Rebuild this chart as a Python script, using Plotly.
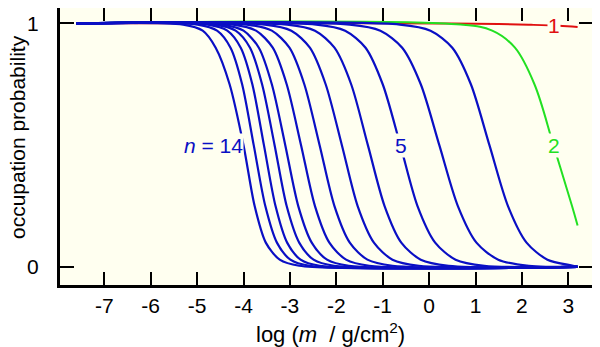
import plotly.graph_objects as go

# occupation probability levels at which each curve's position was read
levels = [0.995, 0.97, 0.9, 0.75, 0.5, 0.25, 0.1, 0.03, 0.005]

# log m (g/cm^2) where curve n crosses each level
curves = {
    14: [-5.30, -4.88, -4.60, -4.30, -4.00, -3.76, -3.52, -3.22, -2.80],
    13: [-4.99, -4.57, -4.28, -4.03, -3.78, -3.53, -3.28, -2.99, -2.58],
    12: [-4.77, -4.35, -4.06, -3.81, -3.56, -3.31, -3.06, -2.77, -2.36],
    11: [-4.61, -4.17, -3.86, -3.60, -3.33, -3.07, -2.80, -2.49, -2.05],
    10: [-4.47, -4.00, -3.67, -3.39, -3.10, -2.82, -2.53, -2.20, -1.73],
    9: [-4.23, -3.73, -3.37, -3.07, -2.76, -2.46, -2.15, -1.79, -1.29],
    8: [-3.93, -3.39, -3.01, -2.69, -2.36, -2.04, -1.71, -1.33, -0.79],
    7: [-3.54, -2.97, -2.57, -2.23, -1.88, -1.54, -1.19, -0.79, -0.22],
    6: [-3.06, -2.46, -2.04, -1.68, -1.32, -0.96, -0.60, -0.18, 0.42],
    5: [-2.43, -1.81, -1.37, -1.00, -0.62, -0.25, 0.13, 0.57, 1.19],
    4: [-1.71, -1.05, -0.58, -0.18, 0.22, 0.62, 1.02, 1.49, 2.15],
    3: [-0.63, 0.03, 0.50, 0.90, 1.30, 1.70, 2.10, 2.55, 3.10],
}
x_start, x_end = -7.6, 3.2

n2_x = [-7.6, 0.68, 1.36, 1.85, 2.27, 2.68, 3.08, 3.2]
n2_y = [1.0, 0.995, 0.97, 0.9, 0.75, 0.5, 0.25, 0.17]

n1_x = [-7.6, -1.0, 0.5, 1.5, 2.2, 2.8, 3.2]
n1_y = [1.0, 1.0, 0.999, 0.997, 0.994, 0.99, 0.985]

x_ticks = [-7, -6, -5, -4, -3, -2, -1, 0, 1, 2, 3]
x_ticktext = ["-7", "-6", "-5", "-4", "-3", "-2", "-1", "0", "1", "2", "3"]
y_ticks = [0, 1]

BLUE = "#0a0fc4"
GREEN = "#22e022"
RED = "#e01010"
BG = "#fffff0"
FONT = "Liberation Sans, Arial, sans-serif"

fig = go.Figure()
fig.add_trace(go.Scatter(x=n1_x, y=n1_y, mode="lines",
                         line=dict(color=RED, width=2, shape="spline")))
fig.add_trace(go.Scatter(x=n2_x, y=n2_y, mode="lines",
                         line=dict(color=GREEN, width=2, shape="spline")))
for n, xs in curves.items():
    fig.add_trace(go.Scatter(x=[x_start] + xs + [x_end],
                             y=[1.0] + levels + [0.0],
                             mode="lines",
                             line=dict(color=BLUE, width=2.2, shape="spline", smoothing=0.8)))

labels = [
    ("<i>n</i> = 14", -4.64, 0.5, BLUE),
    ("5", -0.61, 0.5, BLUE),
    ("2", 2.69, 0.5, GREEN),
    ("1", 2.69, 0.993, RED),
]
for txt, x, y, c in labels:
    fig.add_annotation(x=x, y=y, text=txt, showarrow=False, bgcolor=BG,
                       xanchor="center", yanchor="middle",
                       font=dict(color=c, size=21, family=FONT), borderpad=0)

# axis titles placed in paper coordinates (plot area is 533 x 277 px)
fig.add_annotation(x=(330 - 60) / 533, y=(285 - 333) / 277, xref="paper", yref="paper",
                   xanchor="center", yanchor="middle",
                   text="log (<i>m</i>  / g/cm<sup>2</sup>)", showarrow=False,
                   font=dict(size=22, family=FONT, color="black"))
fig.add_annotation(x=(17 - 60) / 533, y=(285 - 137) / 277, xref="paper", yref="paper",
                   xanchor="center", yanchor="middle",
                   text="occupation probability", showarrow=False, textangle=-90,
                   font=dict(size=21, family=FONT, color="black"))

# the page adds an 8 px body margin, so the figure is 8 px smaller and offset
fig.update_layout(
    width=592, height=339,
    margin=dict(l=52, r=7, t=0, b=62),
    paper_bgcolor="white", plot_bgcolor=BG,
    showlegend=False,
    font=dict(family=FONT, size=21, color="black"),
)
fig.update_xaxes(range=[-7.955, 3.532], tickvals=x_ticks, ticktext=x_ticktext,
                 ticks="inside", ticklen=13, tickwidth=2, tickcolor="black",
                 showline=True, linewidth=3, linecolor="black", mirror="ticks",
                 showgrid=False, zeroline=False, automargin=False,
                 ticklabelstandoff=0)
fig.update_yaxes(range=[-0.074, 1.063], tickvals=y_ticks,
                 ticks="inside", ticklen=14, tickwidth=2, tickcolor="black",
                 showline=True, linewidth=3, linecolor="black", mirror="ticks",
                 showgrid=False, zeroline=False, automargin=False,
                 ticklabelstandoff=14)

fig.write_html("out.html")
